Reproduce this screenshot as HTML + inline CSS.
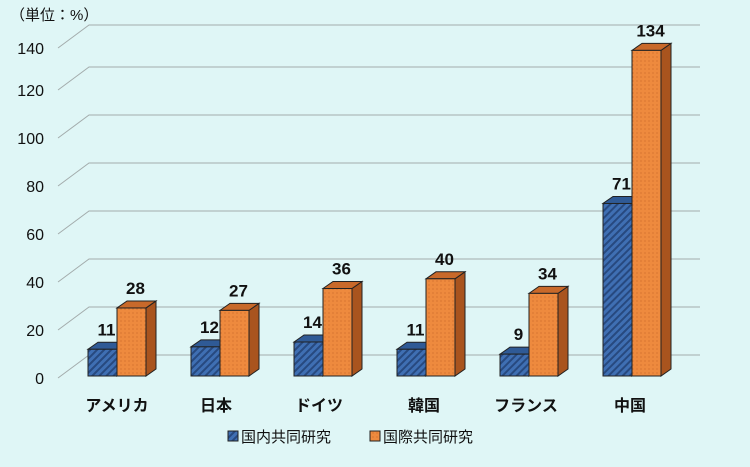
<!DOCTYPE html>
<html><head><meta charset="utf-8"><style>
body{margin:0;background:#dff6f6;}
svg{display:block;font-family:"Liberation Sans","Noto Sans CJK JP",sans-serif;}
</style></head><body>
<svg width="750" height="467" viewBox="0 0 750 467">
<defs>
<pattern id="hb" width="5" height="5" patternUnits="userSpaceOnUse" patternTransform="rotate(45)">
<rect width="5" height="5" fill="#3f6fb3"/><rect width="2" height="5" fill="#27497f"/></pattern>
<pattern id="ho" width="4" height="4" patternUnits="userSpaceOnUse">
<rect width="4" height="4" fill="#ee8a3e"/><circle cx="1" cy="1" r="0.6" fill="#c8682a"/></pattern>
</defs>
<rect width="750" height="467" fill="#dff6f6"/>
<g stroke="#a3acac" stroke-width="1" fill="none">
<path d="M58 378 L89 355 L700 355"/>
<path d="M58 330 L89 307 L700 307"/>
<path d="M58 282 L89 259 L700 259"/>
<path d="M58 234 L89 211 L700 211"/>
<path d="M58 186 L89 163 L700 163"/>
<path d="M58 138 L89 115 L700 115"/>
<path d="M58 90 L89 67 L700 67"/>
<path d="M58 48 L89 25 L700 25"/>
</g>
<g font-size="16" fill="#111" text-anchor="end">
<text x="44" y="384">0</text><text x="44" y="336">20</text><text x="44" y="288">40</text>
<text x="44" y="240">60</text><text x="44" y="192">80</text><text x="44" y="144">100</text>
<text x="44" y="96">120</text><text x="44" y="54">140</text>
</g>
<text x="10" y="20" font-size="15" fill="#111">（単位：%）</text>
<g id="bars" stroke="#222" stroke-width="1"></g>
<g font-size="17" fill="#111" font-weight="bold" text-anchor="middle" id="lbl"></g>
<g font-size="16" fill="#111" font-weight="bold" text-anchor="middle">
<text x="117" y="411">アメリカ</text><text x="216" y="411">日本</text><text x="319" y="411">ドイツ</text>
<text x="424" y="411">韓国</text><text x="526" y="411">フランス</text><text x="630" y="411">中国</text>
</g>
<rect x="228" y="431" width="10" height="10" fill="url(#hb)" stroke="#222"/>
<text x="241" y="442" font-size="15" fill="#111">国内共同研究</text>
<rect x="370" y="431" width="10" height="10" fill="url(#ho)" stroke="#222"/>
<text x="383" y="442" font-size="15" fill="#111">国際共同研究</text>
<script>
var data=[[11,28],[12,27],[14,36],[11,40],[9,34],[71,134]];
var cs=[117,220,323,426,529,632];
var g=document.getElementById('bars'),l=document.getElementById('lbl');
var ns="http://www.w3.org/2000/svg",B=376,S=2.43,W=29,dx=10,dy=7;
function bar(x,v,front,top,side){
 var y=B-v*S;
 var p=document.createElementNS(ns,'polygon');
 p.setAttribute('points',(x+W)+','+y+' '+(x+W+dx)+','+(y-dy)+' '+(x+W+dx)+','+(B-dy)+' '+(x+W)+','+B);p.setAttribute('fill',side);g.appendChild(p);
 p=document.createElementNS(ns,'polygon');
 p.setAttribute('points',x+','+y+' '+(x+dx)+','+(y-dy)+' '+(x+W+dx)+','+(y-dy)+' '+(x+W)+','+y);p.setAttribute('fill',top);g.appendChild(p);
 var r=document.createElementNS(ns,'rect');r.setAttribute('x',x);r.setAttribute('y',y);r.setAttribute('width',W);r.setAttribute('height',v*S);r.setAttribute('fill',front);g.appendChild(r);
 var t=document.createElementNS(ns,'text');t.setAttribute('x',x+W/2+4);t.setAttribute('y',y-14);t.textContent=v;l.appendChild(t);
}
for(var i=0;i<6;i++){bar(cs[i]-W,data[i][0],'url(#hb)','#2f5a96','#1f3d6a');bar(cs[i],data[i][1],'url(#ho)','#c8692a','#a9541e');}
</script>
</svg>
</body></html>
